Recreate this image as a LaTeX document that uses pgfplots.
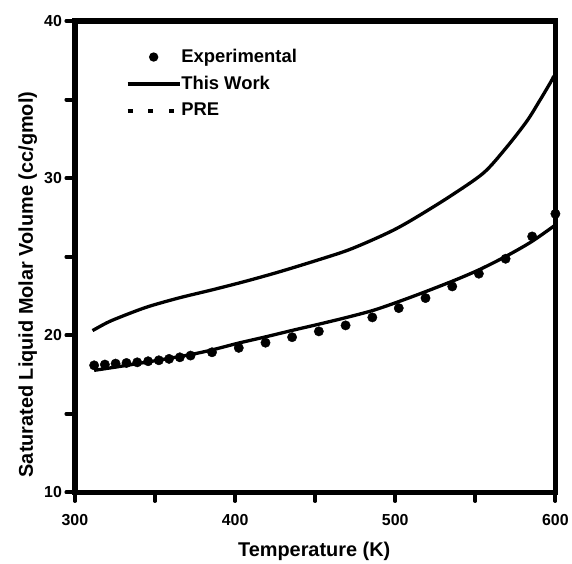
\documentclass[border=0pt]{standalone}
\usepackage{fontspec}
\setmainfont{Liberation Sans}
\usepackage{pgfplots}
\pgfplotsset{compat=1.18}
\begin{document}
\begin{tikzpicture}
\begin{axis}[
  width=481bp, height=472bp, scale only axis,
  xmin=300, xmax=600, ymin=10, ymax=40,
  xtick={300,400,500,600}, ytick={10,20,30,40},
  minor x tick num=1, minor y tick num=1,
  xtick pos=bottom, ytick pos=left,
  tick align=outside,
  major tick length=8.5bp, minor tick length=8.5bp,
  tick style={black, line width=4bp, line cap=round},
  axis line style={line width=5.5bp},
  clip=false,
  /pgf/number format/assume math mode=true,
  tick label style={font=\fontsize{16}{19}\selectfont\bfseries},
  xticklabel style={yshift=-10bp},
  yticklabel style={xshift=-1bp},
  label style={font=\fontsize{20}{24}\selectfont\bfseries},
  xlabel={Temperature (K)},
  ylabel={Saturated Liquid Molar Volume (cc/gmol)},
  xlabel style={at={(axis description cs:0.498,-0.1356)}, anchor=base},
  ylabel style={at={(axis description cs:-0.0873,0.441)}, anchor=base},
  legend style={at={(axis description cs:0.106,0.943)}, anchor=north west,
    draw=none, fill=none, inner sep=0pt, row sep=9bp,
    font=\fontsize{18.5}{22}\selectfont\bfseries,
    nodes={inner sep=0pt, text height=14bp, text depth=4bp, anchor=west, xshift=5bp}},
  legend cell align=left,
]
\addplot[only marks, mark=*, mark size=4.7bp, black, mark options={line width=0.4bp},
  legend image code/.code={\path[draw=none,fill=none] (0bp,0bp) -- (52bp,0bp); \fill[black, draw=none] (26bp,0bp) circle (4.7bp);}]
 coordinates {
 (312.0,18.09) (318.7,18.14) (325.4,18.20) (332.2,18.24) (338.9,18.28)
 (345.7,18.35) (352.4,18.41) (358.8,18.50) (365.5,18.60) (372.2,18.71)
 (385.6,18.92) (402.3,19.20) (419.0,19.53) (435.6,19.88) (452.3,20.25)
 (469.0,20.63) (485.7,21.14) (502.2,21.73) (518.9,22.37) (535.6,23.11)
 (552.2,23.92) (568.9,24.87) (585.5,26.29) (600.0,27.73)
 };
\addlegendentry{Experimental}
\addplot[black, line width=3.3bp, smooth,
  legend image code/.code={\draw[black, line width=3.3bp] (0bp,0bp) -- (52bp,0bp);}]
 coordinates {
 (312,17.77) (330,18.05) (350,18.38) (372,18.77) (386,19.08) (402,19.50)
 (419,19.90) (436,20.32) (452,20.70) (469,21.12) (486,21.58) (501,22.10)
 (519,22.78) (538,23.54) (553,24.20) (569,25.02) (585,25.95) (600,27.02)
 };
\addlegendentry{This Work}
\addplot[black, line width=3.3bp, smooth,
  legend image code/.code={\path[draw=none,fill=none] (0bp,0bp) -- (52bp,0bp); \draw[black, line width=3.3bp, dash pattern=on 5bp off 15.7bp] (0bp,0bp) -- (48bp,0bp);}]
 coordinates {
 (311,20.30) (320,20.80) (328,21.15) (345,21.80) (365,22.38) (386,22.90)
 (407,23.45) (428,24.05) (452,24.80) (470,25.40) (486,26.08) (500,26.75)
 (513,27.50) (534,28.83) (555,30.32) (569,31.90) (582,33.60) (590,34.90)
 (597,36.10) (599,36.50)
 };
\addlegendentry{PRE}
\pgfplotsinvokeforeach{300,350,400,450,500,550,600}{
  \draw[black, line width=4bp, line cap=round] (axis cs:#1,10) -- ([yshift=-8bp]axis cs:#1,10);
}
\pgfplotsinvokeforeach{10,15,20,25,30,35,40}{
  \draw[black, line width=4bp, line cap=round] (axis cs:300,#1) -- ([xshift=-8bp]axis cs:300,#1);
}
\end{axis}
\draw[line width=5.5bp] (current axis.south west) rectangle (current axis.north east);
\path (current axis.south west) ++(-75bp,-68bp) rectangle ++(572bp,561bp);
\end{tikzpicture}
\end{document}
